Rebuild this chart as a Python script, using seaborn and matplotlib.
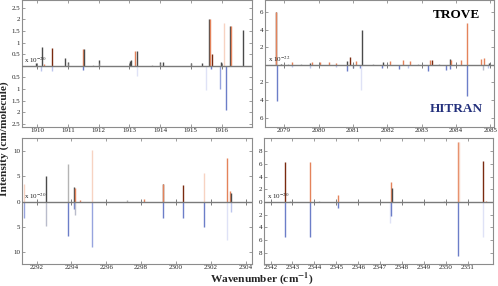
"""Stick spectra: TROVE (up) vs HITRAN (down) in four wavenumber windows."""

import matplotlib

matplotlib.use("Agg")
import matplotlib.pyplot as plt
import numpy as np
import seaborn as sns
from matplotlib.ticker import FuncFormatter

# ---- data (intensities in units of the scale label of each panel) ----
# shade keys: k dark grey, g light grey, o orange, d dark brown, p peach
#             b blue, m mid blue, l light blue, v pale lavender, s grey-blue
tl_up_wn = [1909.98, 1910.17, 1910.21, 1910.50, 1910.90, 1911.00, 1911.50, 1911.53,
            1911.83, 1912.00, 1913.02, 1913.07, 1913.19, 1913.26, 1913.75, 1914.00,
            1914.09, 1915.00, 1915.38, 1915.59, 1915.62, 1915.68, 1915.97, 1916.08,
            1916.27, 1916.30, 1916.69]
tl_up_int = [0.13, 0.79, 0.07, 0.77, 0.34, 0.16, 0.71, 0.71, 0.05, 0.27, 0.20, 0.24,
             0.63, 0.63, 0.05, 0.16, 0.16, 0.14, 0.11, 2.00, 2.00, 0.50, 0.17, 1.84,
             1.70, 1.70, 1.53]
tl_up_shade = ["k", "k", "o", "d", "k", "k", "o", "k", "g", "k", "k", "k", "o", "k",
               "g", "k", "k", "k", "k", "k", "o", "d", "k", "p", "k", "o", "k"]
tl_dn_wn = [1910.14, 1910.50, 1911.50, 1913.24, 1915.48, 1915.67, 1915.95, 1916.16]
tl_dn_int = [0.21, 0.21, 0.20, 0.43, 1.03, 0.14, 0.99, 1.90]
tl_dn_shade = ["l", "l", "b", "v", "v", "b", "m", "b"]

tr_up_wn = [2078.75, 2078.77, 2078.92, 2079.10, 2079.23, 2079.50, 2079.76, 2079.80,
            2080.04, 2080.30, 2080.52, 2080.82, 2080.91, 2081.10, 2081.28, 2081.60,
            2081.88, 2082.08, 2082.47, 2082.66, 2082.90, 2083.24, 2083.29, 2083.50,
            2083.83, 2083.87, 2084.14, 2084.32, 2084.72, 2084.83, 2084.95]
tr_up_int = [6.00, 6.00, 0.15, 0.12, 0.30, 0.10, 0.25, 0.35, 0.35, 0.35, 0.26, 0.40,
             0.86, 0.45, 3.94, 0.12, 0.37, 0.45, 0.56, 0.45, 0.15, 0.56, 0.50, 0.12,
             0.67, 0.60, 0.56, 4.70, 0.67, 0.82, 0.20]
tr_up_shade = ["k", "o", "k", "g", "o", "g", "k", "o", "o", "o", "o", "k", "d", "o",
               "k", "g", "k", "o", "o", "o", "g", "o", "d", "g", "k", "o", "o", "o",
               "o", "o", "k"]
tr_dn_wn = [2078.79, 2079.23, 2079.75, 2080.50, 2080.84, 2081.00, 2081.20, 2081.25,
            2081.85, 2082.35, 2082.62, 2083.19, 2083.72, 2083.82, 2084.33, 2084.80,
            2084.93]
tr_dn_int = [4.05, 0.30, 0.35, 0.30, 0.75, 0.40, 0.40, 2.80, 0.40, 0.45, 0.35, 0.68,
             0.56, 0.50, 3.50, 0.56, 0.40]
tr_dn_shade = ["b", "l", "l", "l", "b", "b", "b", "v", "b", "b", "l", "b", "b", "b",
               "b", "s", "l"]

bl_up_wn = [2291.29, 2292.52, 2293.82, 2294.14, 2294.18, 2294.50, 2295.20, 2297.20,
            2298.18, 2299.24, 2299.28, 2300.43, 2301.63, 2302.95, 2303.11, 2303.17]
bl_up_int = [3.45, 5.16, 7.50, 2.80, 2.70, 0.30, 10.26, 0.30, 0.60, 3.45, 3.40, 3.30,
             5.60, 8.60, 2.10, 1.70]
bl_up_shade = ["p", "k", "g", "k", "o", "o", "p", "g", "o", "k", "o", "d", "p", "o",
               "o", "k"]
bl_dn_wn = [2291.29, 2292.52, 2293.82, 2294.14, 2294.20, 2295.20, 2299.24, 2300.43,
            2301.63, 2302.95, 2303.15]
bl_dn_int = [3.30, 4.80, 6.80, 1.45, 2.60, 9.05, 3.20, 3.20, 5.10, 7.60, 2.00]
bl_dn_shade = ["m", "s", "b", "b", "s", "m", "b", "b", "b", "v", "l"]

br_up_wn = [2342.68, 2342.90, 2343.82, 2344.20, 2345.08, 2347.50, 2347.55, 2349.90,
            2350.53, 2350.57, 2351.70, 2351.80]
br_up_int = [6.35, 0.20, 6.30, 0.15, 1.10, 3.20, 2.15, 0.20, 9.50, 9.50, 6.50, 0.20]
br_up_shade = ["d", "g", "o", "g", "o", "o", "k", "g", "o", "p", "d", "o"]
br_dn_wn = [2342.68, 2343.82, 2345.06, 2347.43, 2347.51, 2350.53, 2351.70]
br_dn_int = [5.60, 5.60, 1.00, 3.25, 2.20, 8.50, 5.60]
br_dn_shade = ["b", "b", "b", "v", "b", "b", "v"]

SHADES = {
    "k": "#4a4a4a", "g": "#b4b4b4", "o": "#e4835b", "d": "#7a2a10", "p": "#f7d3c2",
    "b": "#6c7ec8", "m": "#97a4de", "l": "#bcc5ec", "v": "#dfe2f6", "s": "#b9bccb",
}

sns.set_style("ticks")
plt.rcParams["font.family"] = "serif"
plt.rcParams["font.serif"] = ["Liberation Serif", "DejaVu Serif"]
plt.rcParams["mathtext.fontset"] = "stix"

FRAME = "#8c8c8c"


def draw_panel(ax, up, dn, xlim, ylim, xticks, yticks, scale, zero_label):
    up_wn, up_int, up_shade = up
    dn_wn, dn_int, dn_shade = dn
    ax.vlines(up_wn, 0, up_int, colors=[SHADES[s] for s in up_shade], lw=1.0)
    ax.vlines(dn_wn, 0, -np.asarray(dn_int), colors=[SHADES[s] for s in dn_shade], lw=1.0)
    ax.axhline(0, color="#7a7a7a", lw=1.0, zorder=3)
    # little tick marks on the zero axis, as in the original frame
    ax.plot(xticks, np.zeros(len(xticks)), ls="none", marker="|", ms=4,
            mew=0.7, color="#7a7a7a", zorder=3)
    ax.set_xlim(*xlim)
    ax.set_ylim(*ylim)
    ax.set_xticks(xticks)
    ax.set_yticks(yticks)
    ax.yaxis.set_major_formatter(FuncFormatter(
        lambda v, _: ("0" if zero_label else "") if abs(v) < 1e-9 else f"{abs(v):g}"))
    ax.xaxis.set_major_formatter(FuncFormatter(lambda v, _: f"{v:.0f}"))
    ax.tick_params(direction="in", top=True, right=True, length=2.5, width=0.6,
                   color=FRAME, labelsize=5, pad=1.2, labelcolor="#222222")
    ax.tick_params(axis="x", pad=1.0)
    for sp in ax.spines.values():
        sp.set_color(FRAME)
        sp.set_linewidth(0.8)
    ax.text(0.012, 0.015 * ylim[1], scale, transform=ax.get_yaxis_transform(),
            fontsize=5, ha="left", va="bottom", color="#222222", zorder=4)
    ax.grid(False)


fig = plt.figure(figsize=(4.98, 2.86), dpi=100)
ax_tl = fig.add_axes([0.0436, 0.556, 0.4630, 0.443])
ax_tr = fig.add_axes([0.5320, 0.556, 0.4600, 0.443])
ax_bl = fig.add_axes([0.0436, 0.077, 0.4630, 0.440])
ax_br = fig.add_axes([0.5300, 0.077, 0.4600, 0.440])

draw_panel(ax_tl, (tl_up_wn, tl_up_int, tl_up_shade), (tl_dn_wn, tl_dn_int, tl_dn_shade),
           (1909.5, 1917.0), (-2.63, 2.82), np.arange(1910, 1917),
           np.arange(-2.5, 2.51, 0.5), r"x 10$^{-20}$", False)
draw_panel(ax_tr, (tr_up_wn, tr_up_int, tr_up_shade), (tr_dn_wn, tr_dn_int, tr_dn_shade),
           (2078.44, 2085.11), (-7.05, 7.32), np.arange(2079, 2086),
           np.arange(-6, 7, 2), r"x 10$^{-22}$", False)
draw_panel(ax_bl, (bl_up_wn, bl_up_int, bl_up_shade), (bl_dn_wn, bl_dn_int, bl_dn_shade),
           (2291.14, 2304.39), (-12.4, 12.6), np.arange(2292, 2305, 2),
           np.arange(-10, 11, 5), r"x 10$^{-20}$", True)
draw_panel(ax_br, (br_up_wn, br_up_int, br_up_shade), (br_dn_wn, br_dn_int, br_dn_shade),
           (2341.7, 2352.14), (-9.8, 10.1), np.arange(2342, 2352),
           np.arange(-8, 9, 2), r"x 10$^{-20}$", True)

ax_tr.text(0.835, 0.88, "TROVE", transform=ax_tr.transAxes, fontsize=9.5,
           fontweight="bold", ha="center", va="center", color="black")
ax_tr.text(0.835, 0.14, "HITRAN", transform=ax_tr.transAxes, fontsize=9.5,
           fontweight="bold", ha="center", va="center", color="#23307c")

fig.text(0.525, -0.004, r"Wavenumber (cm$^{\mathbf{-1}}$)", fontsize=8.2,
         fontweight="bold", ha="center", va="bottom")
fig.text(-0.002, 0.516, "Intensity (cm/molecule)", fontsize=8.2, fontweight="bold",
         rotation=90, ha="left", va="center")

fig.savefig("out.png", dpi=100)
